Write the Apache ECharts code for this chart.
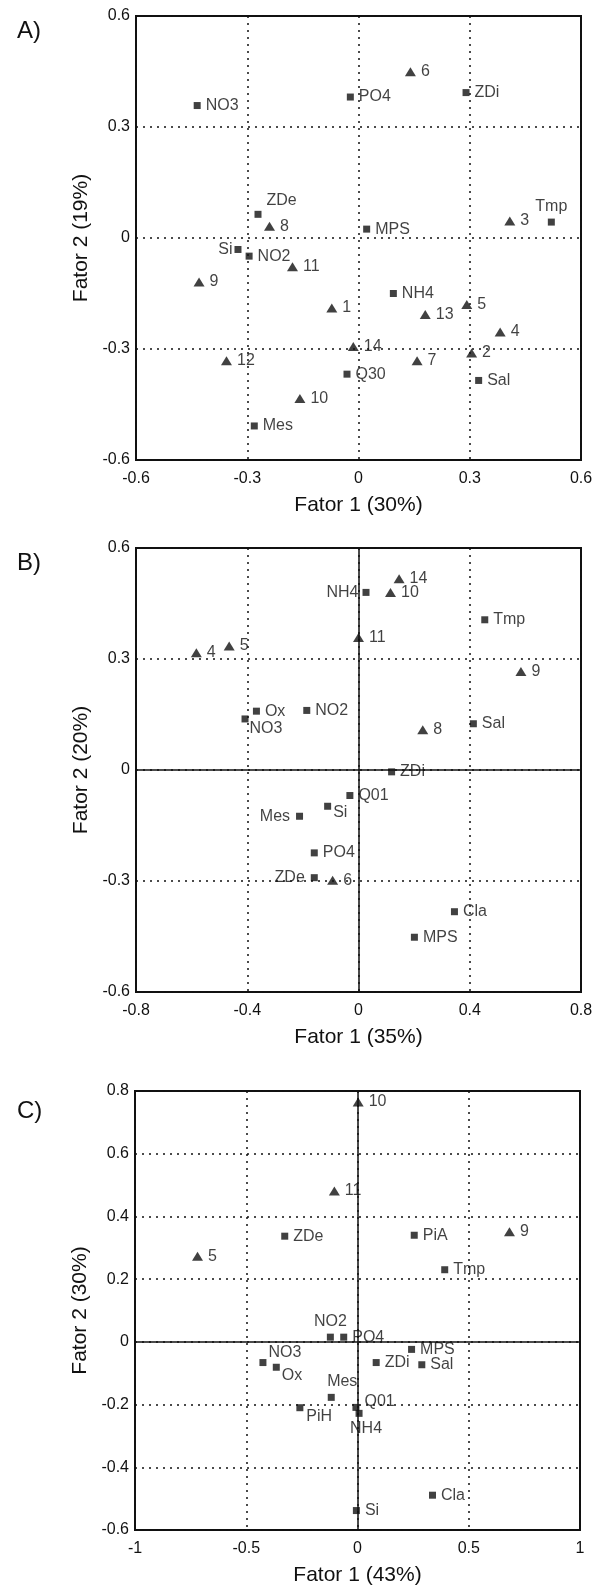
<!DOCTYPE html>
<html>
<head>
<meta charset="utf-8">
<script src="https://cdn.jsdelivr.net/npm/echarts@6/dist/echarts.min.js"></script>
<style>
  body { margin: 0; background: #fff; }
  #chartArea { width: 597px; height: 1587px; }
</style>
</head>
<body>
<div id="chartArea"></div>
<script>
// panel A (variables = squares, samples = triangles)
var varsA = ['NO3', 'PO4', 'ZDi', 'ZDe', 'MPS', 'Tmp', 'Si', 'NO2', 'NH4', 'Q30', 'Sal', 'Mes'];
var varsAxy = [[-0.435, 0.358], [-0.022, 0.381], [0.290, 0.393], [-0.271, 0.064], [0.022, 0.024], [0.520, 0.043],
    [-0.325, -0.031], [-0.295, -0.049], [0.094, -0.150], [-0.031, -0.368], [0.324, -0.385], [-0.281, -0.508]];
var sampA = ['6', '8', '3', '11', '9', '1', '5', '13', '4', '14', '2', '12', '7', '10'];
var sampAxy = [[0.140, 0.449], [-0.240, 0.032], [0.408, 0.046], [-0.178, -0.078], [-0.430, -0.119], [-0.072, -0.189],
    [0.292, -0.180], [0.180, -0.207], [0.382, -0.254], [-0.014, -0.293], [0.305, -0.311], [-0.356, -0.332],
    [0.158, -0.332], [-0.158, -0.434]];

// panel B
var varsB = ['NH4', 'Tmp', 'Ox', 'NO2', 'NO3', 'Sal', 'ZDi', 'Q01', 'Si', 'Mes', 'PO4', 'ZDe', 'Cla', 'MPS'];
var varsBxy = [[0.027, 0.480], [0.454, 0.406], [-0.367, 0.159], [-0.186, 0.161], [-0.408, 0.138], [0.413, 0.125],
    [0.119, -0.005], [-0.031, -0.069], [-0.111, -0.098], [-0.212, -0.125], [-0.159, -0.224], [-0.159, -0.291],
    [0.345, -0.383], [0.201, -0.452]];
var sampB = ['14', '10', '11', '5', '4', '9', '8', '6'];
var sampBxy = [[0.146, 0.517], [0.115, 0.480], [0.0, 0.358], [-0.465, 0.335], [-0.583, 0.317], [0.584, 0.266],
    [0.231, 0.109], [-0.093, -0.298]];

// panel C
var varsC = ['ZDe', 'PiA', 'Tmp', 'NO2', 'PO4', 'MPS', 'NO3', 'ZDi', 'Sal', 'Ox', 'Mes', 'Q01', 'PiH', 'NH4', 'Cla', 'Si'];
var varsCxy = [[-0.327, 0.337], [0.255, 0.340], [0.392, 0.230], [-0.122, 0.015], [-0.062, 0.015], [0.243, -0.024],
    [-0.425, -0.066], [0.084, -0.066], [0.289, -0.073], [-0.365, -0.081], [-0.118, -0.177], [-0.007, -0.209],
    [-0.259, -0.210], [0.007, -0.228], [0.337, -0.489], [-0.005, -0.538]];
var sampC = ['10', '11', '9', '5'];
var sampCxy = [[0.003, 0.765], [-0.104, 0.481], [0.683, 0.351], [-0.719, 0.273]];

var panelNames = ['A)', 'B)', 'C)'];
var xTitles = ['Fator 1 (30%)', 'Fator 1 (35%)', 'Fator 1 (43%)'];
var yTitles = ['Fator 2 (19%)', 'Fator 2 (20%)', 'Fator 2 (30%)'];

// label placement tweaks (default is right of the marker)
var labelA = {
    ZDe: { offset: [0, -14] },
    Tmp: { position: 'top', distance: 4 },
    Si: { position: 'left', distance: 2 }
};
var labelB = {
    NH4: { position: 'left', distance: 4 },
    NO3: { offset: [-4, 10] },
    Si: { offset: [-3, 6] },
    Mes: { position: 'left', distance: 6 },
    ZDe: { position: 'left', distance: 6 }
};
var labelC = {
    NO2: { position: 'top', distance: 4 },
    NO3: { offset: [-3, -10] },
    Ox: { offset: [-3, 8] },
    Mes: { position: 'top', distance: 4, offset: [11, 0] },
    Q01: { offset: [0, -6] },
    PiH: { offset: [-2, 9] },
    NH4: { position: 'bottom', distance: 4, offset: [7, 0] }
};

var font = 'Liberation Sans, Arial, sans-serif';
var ink = '#111';

function makeSeries(names, xy, symbol, size, idx, labelMap, zeroLines) {
    var data = [];
    for (var i = 0; i < names.length; i++) {
        var item = { name: names[i], value: xy[i] };
        if (labelMap[names[i]]) item.label = labelMap[names[i]];
        data.push(item);
    }
    var s = {
        type: 'scatter',
        xAxisIndex: idx,
        yAxisIndex: idx,
        symbol: symbol,
        symbolSize: size,
        itemStyle: { color: ink },
        label: {
            show: true,
            position: 'right',
            distance: 5,
            formatter: '{b}',
            color: ink,
            fontSize: 16,
            fontFamily: font
        },
        emphasis: { disabled: true },
        data: data
    };
    if (zeroLines) {
        s.markLine = {
            silent: true,
            symbol: 'none',
            label: { show: false },
            lineStyle: { color: ink, type: 'solid', width: 1.5 },
            data: [{ xAxis: 0 }, { yAxis: 0 }]
        };
    }
    return s;
}

var grids = [
    { left: 136, top: 16, width: 445, height: 444 },
    { left: 136, top: 548, width: 445, height: 444 },
    { left: 135, top: 1091, width: 445, height: 441 }
];
var xRanges = [[-0.6, 0.6, 0.3], [-0.8, 0.8, 0.4], [-1, 1, 0.5]];
var yRanges = [[-0.6, 0.6, 0.3], [-0.6, 0.6, 0.3], [-0.6, 0.8, 0.2]];

var dotted = { show: true, lineStyle: { color: ink, type: [2, 5], width: 1.5 } };

var option = {
    animation: false,
    backgroundColor: '#fff',
    title: [],
    grid: [],
    xAxis: [],
    yAxis: [],
    series: [
        makeSeries(varsA, varsAxy, 'rect', 7, 0, labelA, false),
        makeSeries(sampA, sampAxy, 'triangle', [11, 9], 0, labelA, false),
        makeSeries(varsB, varsBxy, 'rect', 7, 1, labelB, true),
        makeSeries(sampB, sampBxy, 'triangle', [11, 9], 1, labelB, false),
        makeSeries(varsC, varsCxy, 'rect', 7, 2, labelC, true),
        makeSeries(sampC, sampCxy, 'triangle', [11, 9], 2, labelC, false)
    ]
};

var titleTops = [14, 546, 1094];
for (var k = 0; k < 3; k++) {
    option.title.push({
        text: panelNames[k],
        left: 12,
        top: titleTops[k],
        textStyle: { fontSize: 24, fontWeight: 'normal', color: ink, fontFamily: font }
    });
    option.grid.push({
        left: grids[k].left, top: grids[k].top, width: grids[k].width, height: grids[k].height,
        show: true, borderColor: ink, borderWidth: 2, containLabel: false
    });
    option.xAxis.push({
        type: 'value',
        gridIndex: k,
        min: xRanges[k][0], max: xRanges[k][1], interval: xRanges[k][2],
        name: xTitles[k],
        nameLocation: 'middle',
        nameGap: 35,
        nameTextStyle: { fontSize: 21, color: ink, fontFamily: font },
        axisLine: { show: false },
        axisTick: { show: false },
        axisLabel: { fontSize: 16, color: ink, fontFamily: font, margin: 11 },
        splitLine: dotted
    });
    option.yAxis.push({
        type: 'value',
        gridIndex: k,
        min: yRanges[k][0], max: yRanges[k][1], interval: yRanges[k][2],
        name: yTitles[k],
        nameLocation: 'middle',
        nameGap: 43,
        nameTextStyle: { fontSize: 21, color: ink, fontFamily: font },
        axisLine: { show: false },
        axisTick: { show: false },
        axisLabel: { fontSize: 16, color: ink, fontFamily: font, margin: 6 },
        splitLine: dotted
    });
}

var chartDom = document.getElementById('chartArea');
var myChart = echarts.init(chartDom);
option && myChart.setOption(option);
</script>
</body>
</html>
